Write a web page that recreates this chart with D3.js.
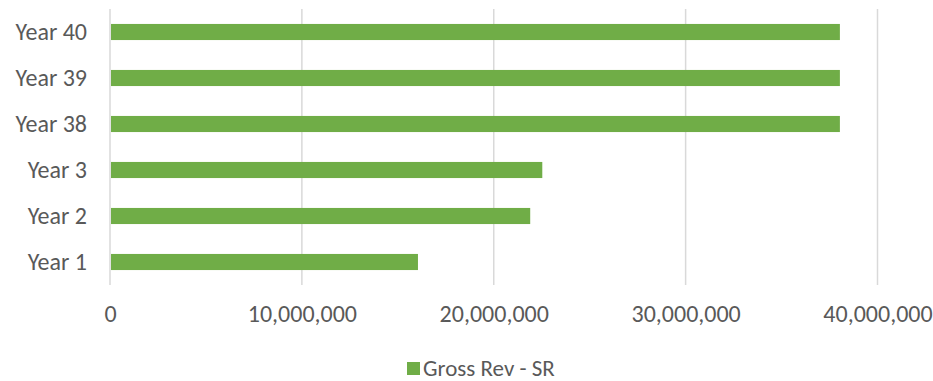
<!DOCTYPE html>
<html>
<head>
<meta charset="utf-8">
<script src="https://cdn.jsdelivr.net/npm/d3@7"></script>
<style>
  body { margin: 0; background: #fff; }
  text { font-family: Carlito, Calibri, "Open Sans", sans-serif; fill: #595959; }
</style>
</head>
<body>
<div id="chart"></div>
<script>
// Data
const categories = ["Year 40", "Year 39", "Year 38", "Year 3", "Year 2", "Year 1"];
const grossRev = [38040000, 38040000, 38040000, 22530000, 21900000, 16050000];
const xTicks = [0, 10000000, 20000000, 30000000, 40000000];
const seriesName = "Gross Rev - SR";

const width = 933, height = 381;
const margin = { top: 9, right: 55, bottom: 96, left: 110 };

const svg = d3.select("#chart")
    .append("svg")
    .attr("width", width)
    .attr("height", height);

const xScale = d3.scaleLinear()
    .domain([0, 40000000])
    .range([margin.left, width - margin.right - 0.5]);

const yScale = d3.scaleBand()
    .domain(categories)
    .range([margin.top, height - margin.bottom])
    .paddingInner(0.65)
    .paddingOuter(0.325);

// gridlines
svg.append("g")
    .selectAll("line")
    .data(xTicks)
    .enter()
    .append("line")
    .attr("x1", d => xScale(d))
    .attr("x2", d => xScale(d))
    .attr("y1", margin.top)
    .attr("y2", height - margin.bottom)
    .attr("stroke", "#d9d9d9")
    .attr("stroke-width", 1.5);

// bars
svg.append("g")
    .selectAll("rect")
    .data(categories)
    .enter()
    .append("rect")
    .attr("x", xScale(0) + 1)
    .attr("y", d => yScale(d))
    .attr("width", (d, i) => xScale(grossRev[i]) - xScale(0) - 1)
    .attr("height", yScale.bandwidth())
    .attr("fill", "#70ad47");

// x axis labels
const xAxis = svg.append("g")
    .attr("transform", `translate(0, ${height - margin.bottom})`)
    .call(d3.axisBottom(xScale).tickValues(xTicks).tickFormat(d3.format(",")).tickSize(0).tickPadding(20));
xAxis.select(".domain").remove();
xAxis.selectAll("text")
    .style("font-size", "24px")
    .attr("fill", "#595959");

// y axis labels
const yAxis = svg.append("g")
    .attr("transform", `translate(${margin.left}, 0)`)
    .call(d3.axisLeft(yScale).tickSize(0).tickPadding(23));
yAxis.select(".domain").remove();
yAxis.selectAll("text")
    .style("font-size", "24px")
    .attr("fill", "#595959");

// legend
const legend = svg.append("g")
    .attr("transform", `translate(407, 362)`);
legend.append("rect")
    .attr("width", 13)
    .attr("height", 13)
    .attr("fill", "#70ad47");
legend.append("text")
    .attr("x", 16)
    .attr("y", 14)
    .style("font-size", "23px")
    .text(seriesName);
</script>
</body>
</html>
